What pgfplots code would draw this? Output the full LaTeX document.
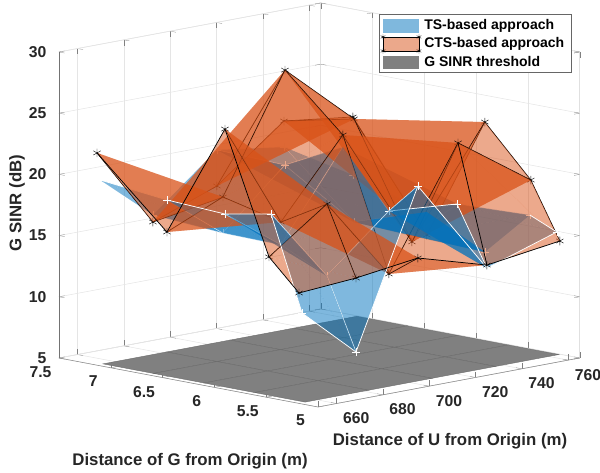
\documentclass[border=0pt]{standalone}
\usepackage{pgfplots}
\usepackage{pgfplotstable}
\usepackage{fontspec}
\setmainfont{Liberation Sans}
\pgfplotsset{compat=1.18}
\definecolor{tsc}{HTML}{0072BD}
\definecolor{ctsc}{HTML}{D95319}
\definecolor{flc}{HTML}{808080}
\pgfplotsset{
 colormap={mts}{color=(tsc) color=(tsc)},
 colormap={mcts}{color=(ctsc) color=(ctsc)},
 colormap={mflr}{color=(flc) color=(flc)},
 colormap={mblk}{color=(black) color=(black)},
 colormap={mwht}{color=(white) color=(white)},
}
\pgfplotstableread{
x y z lev
652 5.183 14.02 0
679.4 5.246 14.17 1
706.8 5.261 14.81 2
734.2 5.207 13.35 2
761.6 5.116 14.49 4
652 5.473 16.50 1
679.4 5.526 19.77 2
706.8 5.541 13.06 3
734.2 5.486 22.88 4
761.6 5.396 19.02 5
652 5.898 26.27 2
679.4 5.970 17.59 3
706.8 5.985 23.70 4
734.2 5.931 14.08 5
761.6 5.840 23.05 6
652 6.458 16.96 3
679.4 6.530 18.73 4
706.8 6.544 28.11 5
734.2 6.490 23.23 6
761.6 6.400 12.92 7
652 7.133 22.34 4
679.4 7.206 15.61 5
706.8 7.201 17.59 6
734.2 7.166 21.98 7
761.6 7.114 21.42 8
}\ctsdata
\pgfplotstableread{
x y z lev
652 5.154 12.43 0
679.4 5.246 8.13 1
706.8 5.261 20.69 2
734.2 5.207 13.10 2
761.6 5.145 15.18 2
652 5.454 20.04 1
679.4 5.526 13.89 2
706.8 5.541 18.20 2
734.2 5.496 17.88 2
761.6 5.405 16.15 5
652 5.898 19.33 2
679.4 5.970 15.71 3
706.8 5.985 22.72 4
734.2 5.931 14.57 5
761.6 5.840 12.43 6
652 6.458 19.58 2
679.4 6.530 15.79 4
706.8 6.544 20.35 5
734.2 6.490 14.81 6
761.6 6.400 14.80 7
652 7.104 20.18 4
679.4 7.206 16.18 5
706.8 7.201 20.53 6
734.2 7.166 19.85 7
761.6 7.114 16.68 8
}\tsdata
\pgfplotstableread{
x y z
652 5.125 5.2
679.4 5.125 5.2
706.8 5.125 5.2
734.2 5.125 5.2
761.6 5.125 5.2

652 5.6125 5.2
679.4 5.6125 5.2
706.8 5.6125 5.2
734.2 5.6125 5.2
761.6 5.6125 5.2

652 6.1 5.2
679.4 6.1 5.2
706.8 6.1 5.2
734.2 6.1 5.2
761.6 6.1 5.2

652 6.5875 5.2
679.4 6.5875 5.2
706.8 6.5875 5.2
734.2 6.5875 5.2
761.6 6.5875 5.2

652 7.075 5.2
679.4 7.075 5.2
706.8 7.075 5.2
734.2 7.075 5.2
761.6 7.075 5.2
}\flrdata
\newcommand{\Fill}[3]{\addplot3[patch,shader=flat,colormap name=#2,fill opacity=0.5,draw opacity=0,forget plot,table/row sep=crcr,table/header=false,patch table={#3}] table[x=x,y=y,z=z,meta=lev]{#1};}
\newcommand{\Edge}[3]{\addplot3[patch,patch type=line,shader=flat,colormap name=#2,line width=0.55pt,forget plot,table/row sep=crcr,table/header=false,patch table={#3}] table[x=x,y=y,z=z,meta=lev]{#1};}
\newcommand{\TF}[1]{\Fill{\tsdata}{mts}{#1}}
\newcommand{\CF}[1]{\Fill{\ctsdata}{mcts}{#1}}
\newcommand{\TE}[1]{\Edge{\tsdata}{mwht}{#1}}
\newcommand{\CE}[1]{\Edge{\ctsdata}{mblk}{#1}}
\newcommand{\TM}[1]{\addplot3[only marks,mark=+,mark size=3pt,draw=white,line width=0.35pt,forget plot,unbounded coords=discard,restrict expr to domain={\thisrow{lev}}{#1}] table[x=x,y=y,z=z]{\tsdata};}
\newcommand{\CM}[1]{\addplot3[only marks,mark=asterisk,mark size=3.2pt,draw=black,line width=0.3pt,forget plot,unbounded coords=discard,restrict expr to domain={\thisrow{lev}}{#1}] table[x=x,y=y,z=z]{\ctsdata};}
\begin{document}
\begin{tikzpicture}
\begin{axis}[
 x={(1.737pt,0.3255pt)},y={(-77.7pt,14.7pt)},z={(0pt,9.18pt)},
 xmin=652,xmax=765,ymin=5,ymax=7.5,zmin=5,zmax=30,
 xtick={660,680,...,760},ytick={5,5.5,6,6.5,7,7.5},ztick={5,10,...,30},
 yticklabels={5,5.5,6,6.5,7,7.5},
 grid=major,grid style={draw=black!10,line width=0.4pt},
 axis line style={draw=black!12,line width=0.4pt},
 tick style={draw=black!50},
 tick align=inside,
 3d box=background,
 clip=false,clip mode=individual,
 point meta min=-1,point meta max=9,
 /pgf/number format/assume math mode=true,
 tick label style={font=\fontsize{11.8}{12}\selectfont\bfseries,text=black!85},
 xticklabel style={xshift=7.5pt,yshift=-2.2pt},
 yticklabel style={xshift=-6.8pt,yshift=-2.2pt},
 zticklabel style={xshift=-6pt},
]
% the three visible axis lines
\addplot3[black!55,line width=0.5pt,forget plot] coordinates {(652,7.5,5) (652,7.5,30)};
\addplot3[black!45,line width=0.4pt,forget plot] coordinates {(652,7.5,5) (652,5,5) (765,5,5)};
\addplot3[surf,shader=faceted,colormap name=mflr,faceted color=black!58,line width=0.3pt,mesh/cols=5,point meta=0,forget plot] table[x=x,y=y,z=z]{\flrdata};
% TS surface, rear part: beneath the CTS surface
\TE{23 24\\19 24\\}
\TF{18 19 23\\19 23 24\\}
\TE{22 23\\18 19\\18 23\\14 19\\}
\TF{17 18 22\\18 22 23\\13 14 18\\}
\TE{21 22\\17 18\\17 22\\13 14\\13 18\\9 14\\}
\TF{16 17 21\\17 21 22\\12 13 17\\13 17 18\\8 9 13\\9 13 14\\}
\TE{20 21\\16 17\\16 21\\12 13\\12 17\\8 9\\8 13\\}
\TF{15 16 20\\16 20 21\\11 12 16\\12 16 17\\7 8 12\\8 12 13\\3 4 8\\4 8 9\\}
\TE{15 16\\15 20\\11 12\\11 16\\7 12\\}
\TM{3:8}
% CTS surface, rear part
\CE{23 24\\19 24\\}\CM{7:8}
\CF{18 19 23\\19 23 24\\}
\CE{22 23\\18 19\\18 23\\14 19\\}\CM{6:6}
\CF{17 18 22\\18 22 23\\13 14 18\\14 18 19\\}
\CE{21 22\\17 18\\17 22\\13 14\\13 18\\9 14\\}\CM{5:5}
\CF{16 17 21\\17 21 22\\12 13 17\\13 17 18\\8 9 13\\9 13 14\\}
\CE{20 21\\16 17\\16 21\\12 13\\12 17\\8 9\\8 13\\4 9\\}\CM{4:4}
\CF{15 16 20\\16 20 21\\11 12 16\\12 16 17\\7 8 12\\8 12 13\\3 4 8\\4 8 9\\}
\CE{15 16\\15 20\\11 12\\11 16\\7 8\\7 12\\}\CM{3:3}
\CF{2 3 7\\3 7 8\\}
% TS surface, the folds that lie above the CTS surface
\TF{14 18 19\\14 18 19\\2 3 7\\3 7 8\\}
\TE{3 4\\3 8\\4 9\\7 8\\2 3\\2 7\\}
\CE{3 4\\3 8\\}
% front part of both
\TF{10 11 15\\11 15 16\\6 7 11\\7 11 12\\}
\CF{10 11 15\\11 15 16\\6 7 11\\7 11 12\\}
\TE{10 11\\10 15\\6 7\\6 11\\}\TM{2:2}
\CE{10 11\\10 15\\6 7\\6 11\\2 3\\2 7\\}\CM{2:2}
\TF{5 6 10\\6 10 11\\1 2 6\\2 6 7\\}
\CF{5 6 10\\6 10 11\\1 2 6\\2 6 7\\}
\TE{5 6\\5 10\\1 2\\1 6\\}\TM{1:1}
\CE{5 6\\5 10\\1 2\\1 6\\}\CM{1:1}
\TF{0 1 5\\1 5 6\\}
\CF{0 1 5\\1 5 6\\}
\TE{0 1\\0 5\\}\TM{0:0}
\CE{0 1\\0 5\\}\CM{0:0}
\coordinate (A) at (axis cs:652,5,5);
\end{axis}
\pgfresetboundingbox
\begin{scope}[shift={(A)},x=0.75pt,y=-0.75pt,shift={(-318,-407)}]
\path[use as bounding box] (0,0) rectangle (600,473);
\node[font=\fontsize{12.6}{13}\selectfont\bfseries,text=black!85] at (450,441) {Distance of U from Origin (m)};
\node[font=\fontsize{12.6}{13}\selectfont\bfseries,text=black!85] at (190,461) {Distance of G from Origin (m)};
\node[font=\fontsize{12.6}{13}\selectfont\bfseries,text=black!85,rotate=90] at (17,203) {G SINR (dB)};
\draw[fill=white,draw=black!60,line width=0.5pt] (379,14) rectangle (571,72);
\fill[tsc,fill opacity=0.5] (383,19) rectangle (419,33);
\fill[ctsc,fill opacity=0.5] (383,37) rectangle (419,51);
\draw[black,line width=0.4pt] (383,37) rectangle (419,51);
\fill[flc] (383,56) rectangle (419,69);
\foreach \p in {(383,37),(419,37),(383,51),(419,51)}{\node[inner sep=0pt] at \p {\tikz[line width=0.3pt]\pgfuseplotmark{asterisk};};}
\node[anchor=west,inner sep=0pt,font=\fontsize{10.5}{11}\selectfont\bfseries] at (424,26) {TS-based approach};
\node[anchor=west,inner sep=0pt,font=\fontsize{10.5}{11}\selectfont\bfseries] at (424,44) {CTS-based approach};
\node[anchor=west,inner sep=0pt,font=\fontsize{10.5}{11}\selectfont\bfseries] at (424,62) {G SINR threshold};
\end{scope}
\end{tikzpicture}
\end{document}
